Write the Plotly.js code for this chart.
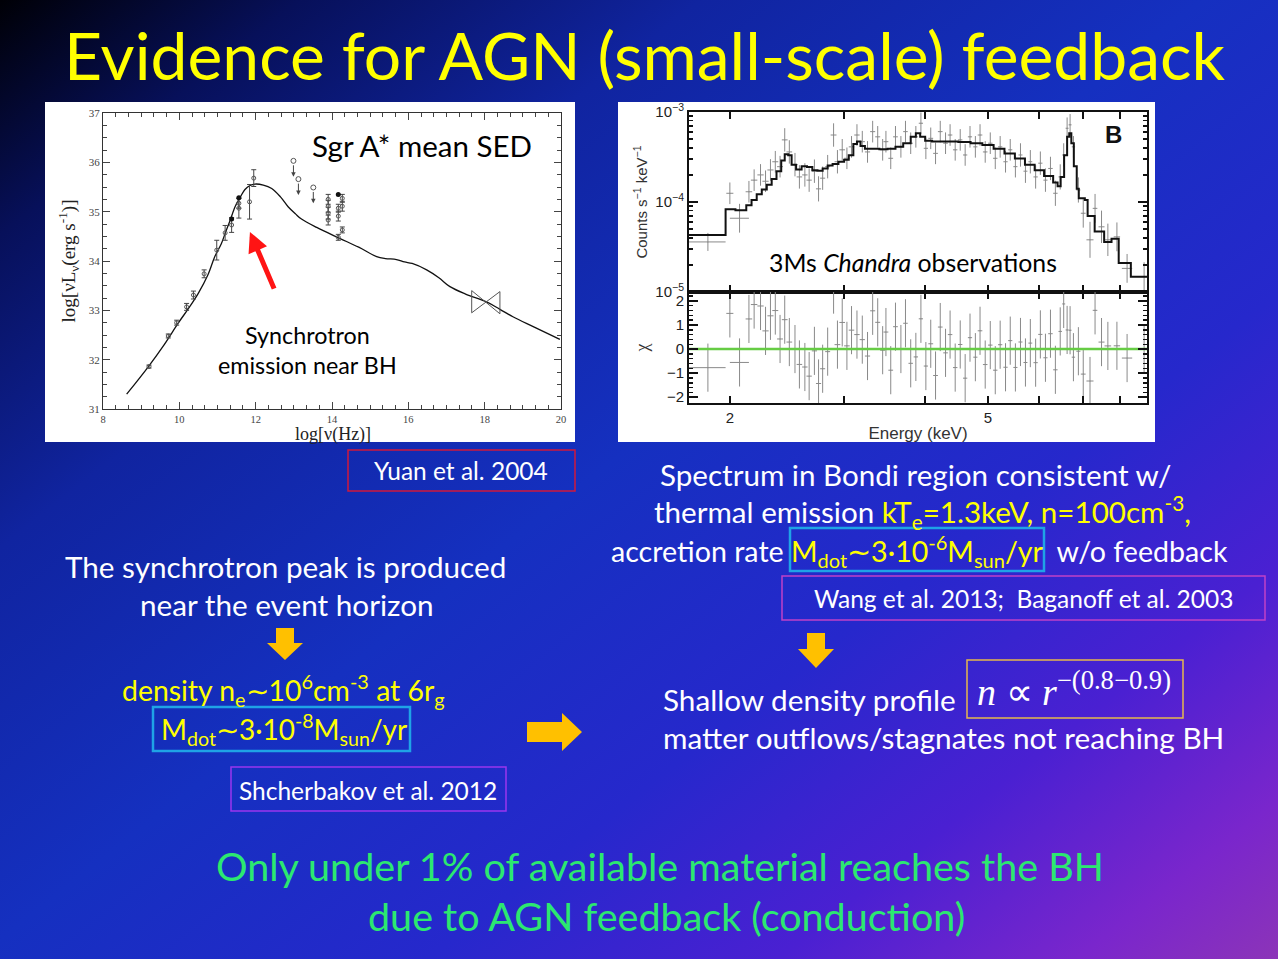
<!DOCTYPE html>
<html><head><meta charset="utf-8">
<script src="https://cdn.plot.ly/plotly-3.0.1.min.js"></script>
<style>
html,body{margin:0;padding:0;width:1278px;height:959px;overflow:hidden;
background:linear-gradient(142deg,#000006 0%,#07105a 12%,#1024a0 28%,#1530c0 48%,#2628cc 66%,#4a20d2 80%,#7a26cc 92%,#8c34b8 100%);}
#chart{width:1278px;height:959px;}
</style></head><body><div id="chart"></div>
<script>
// ---------- SED (left panel) ----------
const sedModelX = [8.62, 9.19, 9.6, 9.97, 10.25, 10.5, 10.75, 10.93, 11.1, 11.2, 11.33, 11.46, 11.6, 11.72, 11.85, 11.98, 12.2, 12.42, 12.65, 12.85, 13.05, 13.2, 13.6, 14.2, 14.7, 15.17, 15.4, 15.69, 15.9, 16.1, 16.48, 16.8, 17.09, 17.5, 18.05, 18.4, 18.74, 19.3, 19.97];
const sedModelY = [31.30, 31.86, 32.30, 32.74, 33.05, 33.35, 33.72, 34.09, 34.35, 34.56, 34.82, 35.10, 35.30, 35.45, 35.53, 35.56, 35.54, 35.47, 35.30, 35.10, 34.95, 34.85, 34.68, 34.46, 34.28, 34.09, 34.05, 34.03, 33.98, 33.95, 33.82, 33.66, 33.48, 33.33, 33.17, 33.02, 32.87, 32.66, 32.41];
const sedX   = [9.205, 9.71, 9.93, 10.19, 10.37, 10.65, 10.98, 11.20, 11.37, 11.56, 11.56, 11.84, 11.95, 13.90, 13.90, 13.90, 13.90, 14.165, 14.165, 14.165, 14.27, 14.27, 14.27];
const sedY   = [31.86, 32.48, 32.75, 33.07, 33.31, 33.74, 34.22, 34.57, 34.73, 35.17, 35.07, 35.20, 35.68, 35.25, 35.11, 34.97, 34.83, 35.07, 34.91, 34.48, 35.27, 35.11, 34.63];
const sedErr = [0.03, 0.04, 0.05, 0.07, 0.08, 0.08, 0.20, 0.15, 0.15, 0.10, 0.20, 0.35, 0.17, 0.10, 0.12, 0.12, 0.10, 0.08, 0.10, 0.06, 0.08, 0.10, 0.06];
const sedFilledX = [11.37, 11.56, 14.165];
const sedFilledY = [34.85, 35.28, 35.35];
const sedLimitX = [12.99, 13.12, 13.51];
const sedLimitY = [36.03, 35.66, 35.49];
const bowX = [17.66, 18.4, 18.4, 17.66, 17.66];
const bowY = [33.40, 32.93, 33.38, 32.95, 33.40];
const sedXTicks = [8, 10, 12, 14, 16, 18, 20];
const sedYTicks = [31, 32, 33, 34, 35, 36, 37];

// ---------- X-ray spectrum (right panel) ----------
const modelE = [1.73, 1.97, 2.04, 2.12, 2.16, 2.20, 2.24, 2.28, 2.32, 2.36, 2.40, 2.43, 2.46, 2.49, 2.53, 2.58, 2.63, 2.68, 2.73, 2.78, 2.83, 2.88, 2.94, 3.00, 3.05, 3.10, 3.14, 3.18, 3.23, 3.30, 3.40, 3.50, 3.60, 3.70, 3.80, 3.87, 3.93, 4.00, 4.10, 4.30, 4.50, 4.70, 4.90, 5.10, 5.30, 5.50, 5.70, 5.90, 6.10, 6.30, 6.40, 6.47, 6.55, 6.62, 6.67, 6.72, 6.78, 6.85, 6.90, 7.05, 7.12, 7.30, 7.55, 7.75, 7.95, 8.30, 8.79];
const modelC = [4.3e-5, 8.3e-5, 8.1e-5, 9.2e-5, 1.05e-4, 1.22e-4, 1.38e-4, 1.55e-4, 1.8e-4, 2.2e-4, 2.9e-4, 3.4e-4, 3.3e-4, 2.6e-4, 2.3e-4, 2.5e-4, 2.45e-4, 2.25e-4, 2.22e-4, 2.35e-4, 2.55e-4, 2.65e-4, 2.8e-4, 2.95e-4, 3.3e-4, 4.4e-4, 4.7e-4, 4.2e-4, 3.9e-4, 3.9e-4, 3.85e-4, 3.9e-4, 4.1e-4, 4.5e-4, 5.3e-4, 5.8e-4, 5.3e-4, 4.8e-4, 4.7e-4, 4.7e-4, 4.65e-4, 4.5e-4, 4.3e-4, 3.9e-4, 3.45e-4, 3.05e-4, 2.6e-4, 2.25e-4, 1.95e-4, 1.65e-4, 1.5e-4, 1.9e-4, 3.3e-4, 5.3e-4, 5.8e-4, 4.5e-4, 2.5e-4, 1.4e-4, 1.1e-4, 1.05e-4, 7e-5, 4.7e-5, 3.6e-5, 3.9e-5, 2.1e-5, 1.48e-5, 1.48e-5];
const specE = [1.85, 2.00, 2.07, 2.14, 2.18, 2.23, 2.27, 2.31, 2.35, 2.39, 2.43, 2.47, 2.52, 2.56, 2.61, 2.65, 2.70, 2.74, 2.78, 2.83, 2.89, 2.93, 2.98, 3.03, 3.08, 3.14, 3.20, 3.26, 3.32, 3.38, 3.44, 3.48, 3.54, 3.60, 3.67, 3.73, 3.80, 3.87, 3.94, 4.01, 4.08, 4.15, 4.22, 4.30, 4.37, 4.45, 4.53, 4.61, 4.69, 4.78, 4.86, 4.95, 5.04, 5.13, 5.22, 5.32, 5.41, 5.51, 5.61, 5.71, 5.81, 5.92, 6.02, 6.13, 6.24, 6.35, 6.46, 6.54, 6.62, 6.69, 6.77, 6.89, 7.01, 7.18, 7.31, 7.48, 7.65, 7.90, 8.19, 8.70];
const specC = [3.6e-5, 1.25e-4, 6.6e-5, 1.3e-4, 1.75e-4, 2.0e-4, 1.7e-4, 2.27e-4, 2.8e-4, 2.47e-4, 4.9e-4, 3.6e-4, 2.6e-4, 1.9e-4, 2.0e-4, 1.75e-4, 2.2e-4, 1.4e-4, 1.84e-4, 2.47e-4, 5.55e-4, 2.8e-4, 3.8e-4, 3.06e-4, 4.1e-4, 5.55e-4, 4.68e-4, 3.6e-4, 6.05e-4, 5.3e-4, 3.8e-4, 4.68e-4, 3.06e-4, 5.3e-4, 4.1e-4, 6.05e-4, 4.5e-4, 5.3e-4, 7.5e-4, 3.95e-4, 5.1e-4, 3.47e-4, 6.05e-4, 4.5e-4, 5.55e-4, 3.8e-4, 4.9e-4, 3.33e-4, 5.3e-4, 4.1e-4, 5.55e-4, 3.6e-4, 4.5e-4, 3.06e-4, 4.1e-4, 2.8e-4, 3.8e-4, 2.47e-4, 3.33e-4, 2.2e-4, 2.8e-4, 1.9e-4, 2.7e-4, 1.75e-4, 2.36e-4, 1.25e-4, 1.9e-4, 3.33e-4, 6.6e-4, 7.2e-4, 4.1e-4, 1.36e-4, 7.5e-5, 3.8e-5, 8.5e-5, 5.3e-5, 3.8e-5, 4.1e-5, 1.83e-5, 1.48e-5];
const specLogErr = [0.10,0.12,0.16,0.12,0.12,0.12,0.12,0.12,0.12,0.12, 0.13,0.13,0.13,0.13,0.13,0.13,0.13,0.14,0.13,0.13, 0.13,0.13,0.12,0.12,0.12,0.12,0.12,0.12,0.12,0.12, 0.12,0.12,0.12,0.12,0.12,0.12,0.12,0.12,0.12,0.12, 0.12,0.12,0.12,0.12,0.12,0.12,0.12,0.12,0.12,0.12, 0.12,0.12,0.12,0.12,0.12,0.12,0.12,0.12,0.13,0.13, 0.13,0.13,0.13,0.13,0.13,0.14,0.14,0.13,0.12,0.12, 0.12,0.14,0.16,0.20,0.16,0.18,0.18,0.16,0.16,0.16];
const specDE = [0.12,0.025,0.07,0.025,0.025,0.025,0.025,0.025,0.025,0.025, 0.025,0.025,0.025,0.025,0.025,0.025,0.025,0.025,0.025,0.025, 0.03,0.03,0.03,0.03,0.03,0.03,0.03,0.03,0.03,0.03, 0.03,0.03,0.03,0.03,0.03,0.03,0.03,0.03,0.03,0.03, 0.035,0.035,0.035,0.035,0.035,0.035,0.035,0.035,0.035,0.035, 0.04,0.04,0.04,0.04,0.04,0.04,0.04,0.04,0.04,0.04, 0.04,0.045,0.045,0.045,0.05,0.05,0.04,0.035,0.035,0.035, 0.04,0.05,0.06,0.09,0.06,0.08,0.09,0.09,0.15,0.12];
const eTickVals = [2, 3, 4, 5, 6, 7, 8];
const eTickText = ['2', '', '', '5', '', '', ''];
const cTickVals = [1e-5, 1e-4, 1e-3];
const cTickText = ['10<sup>−5</sup>', '10<sup>−4</sup>', '10<sup>−3</sup>'];
const cMinorVals = [2e-5,3e-5,4e-5,5e-5,6e-5,7e-5,8e-5,9e-5,2e-4,3e-4,4e-4,5e-4,6e-4,7e-4,8e-4,9e-4];
const chiTickVals = [-2, -1, 0, 1, 2];
const chiTickText = ['−2', '−1', '0', '1', '2'];

// ---------- helpers ----------
const W = 1278, H = 959;
const PX = x => x / W, PY = y => 1 - y / H;
function modelAt(e) { let v = modelC[0]; for (let i = 0; i < modelE.length; i++) { if (modelE[i] <= e) v = modelC[i]; } return v; }
const chi = specE.map((e, i) => (Math.log10(specC[i]) - Math.log10(modelAt(e))) / specLogErr[i]);
const errPlus = specC.map((c, i) => c * (Math.pow(10, specLogErr[i]) - 1));
const errMinus = specC.map((c, i) => c * (1 - Math.pow(10, -specLogErr[i])));
const ones = specE.map(() => 1);

const SERIF = 'Liberation Serif, serif', SANS = 'Liberation Sans, Arial, sans-serif', BODY = 'Lato, sans-serif';
const GREY = '#8a8a8a';

const traces = [
  {x: sedModelX, y: sedModelY, xaxis: 'x', yaxis: 'y', mode: 'lines', line: {color: '#111', width: 1.3, shape: 'spline'}, hoverinfo: 'skip'},
  {x: sedX, y: sedY, xaxis: 'x', yaxis: 'y', mode: 'markers', marker: {symbol: 'circle-open', size: 4, color: '#555', line: {width: 1}},
   error_y: {type: 'data', array: sedErr, color: '#444', thickness: 1, width: 2.5}},
  {x: sedFilledX, y: sedFilledY, xaxis: 'x', yaxis: 'y', mode: 'markers', marker: {symbol: 'circle', size: 5, color: '#111'}},
  {x: sedLimitX, y: sedLimitY, xaxis: 'x', yaxis: 'y', mode: 'markers', marker: {symbol: 'circle-open', size: 5, color: '#555', line: {width: 1}}},
  {x: bowX, y: bowY, xaxis: 'x', yaxis: 'y', mode: 'lines', line: {color: '#555', width: 1}},
  // spectrum
  {x: specE, y: specC, xaxis: 'x2', yaxis: 'y2', mode: 'markers', marker: {size: 1, color: GREY},
   error_y: {type: 'data', array: errPlus, arrayminus: errMinus, color: GREY, thickness: 1, width: 0},
   error_x: {type: 'data', array: specDE, color: GREY, thickness: 1, width: 0}},
  {x: modelE, y: modelC, xaxis: 'x2', yaxis: 'y2', mode: 'lines', line: {color: '#111', width: 2, shape: 'hv'}},
  // residuals
  {x: specE, y: chi, xaxis: 'x3', yaxis: 'y3', mode: 'markers', marker: {size: 1, color: GREY},
   error_y: {type: 'data', array: ones, color: GREY, thickness: 1, width: 0},
   error_x: {type: 'data', array: specDE, color: GREY, thickness: 1, width: 0}, cliponaxis: true},
  {x: [modelE[0], modelE[modelE.length - 1]], y: [0, 0], xaxis: 'x3', yaxis: 'y3', mode: 'lines', line: {color: '#66CC44', width: 2.5}}
];

function txt(text, x, y, size, color, extra) {
  return Object.assign({text: text, x: PX(x), y: PY(y), xref: 'paper', yref: 'paper', showarrow: false,
    xanchor: 'center', yanchor: 'middle', font: {family: BODY, size: size, color: color}}, extra || {});
}
const Y = '#FFFF00';
const ann = [
  txt('Evidence for AGN (small-scale) feedback', 645, 54, 66, Y),
  txt('Sgr A* mean SED', 422, 145, 29.5, '#000'),
  txt('Synchrotron', 307, 335, 23.3, '#000'),
  txt('emission near BH', 307, 365, 23.3, '#000'),
  txt('log[ν(Hz)]', 333, 434.5, 18, '#222', {font: {family: SERIF, size: 18, color: '#222'}}),
  txt('Yuan et al. 2004', 461, 471, 24.5, '#fff'),
  txt('3Ms <i>Chandra</i> observations', 913, 262, 24.8, '#000'),
  txt('<b>B</b>', 1113, 134, 24, '#111', {font: {family: SANS, size: 24, color: '#111'}}),
  txt('Spectrum in Bondi region consistent w/', 915, 474, 29.6, '#fff'),
  txt('thermal emission <span style="color:#FFFF00">kT<sub>e</sub>=1.3keV, n=100cm<sup>-3</sup>,</span>', 922, 512, 29.6, '#fff'),
  txt('accretion rate <span style="color:#FFFF00">M<sub>dot</sub>∼3·10<sup>-6</sup>M<sub>sun</sub>/yr</span>  w/o feedback', 920, 551, 28.6, '#fff'),
  txt('Wang et al. 2013;  Baganoff et al. 2003', 1023, 598, 24.5, '#fff'),
  txt('The synchrotron peak is produced', 285, 566, 29.7, '#fff'),
  txt('near the event horizon', 287, 604, 29.7, '#fff'),
  txt('density n<sub>e</sub>∼10<sup>6</sup>cm<sup>-3</sup> at 6r<sub>g</sub>', 283, 690, 28.4, Y),
  txt('M<sub>dot</sub>∼3·10<sup>-8</sup>M<sub>sun</sub>/yr', 284, 729, 28, Y),
  txt('Shcherbakov et al. 2012', 368, 790, 24.5, '#fff'),
  txt('Shallow density profile', 661, 699, 29.7, '#fff', {xanchor: 'left'}),
  txt('<i>n</i> ∝ <i>r</i><sup>−(0.8−0.9)</sup>', 1074, 689, 38, '#fff', {font: {family: SERIF, size: 38, color: '#fff'}}),
  txt('matter outflows/stagnates not reaching BH', 661, 737, 29.7, '#fff', {xanchor: 'left'}),
  txt('Only under 1% of available material reaches the BH', 660, 865, 39.5, '#2CE870'),
  txt('due to AGN feedback (conduction)', 666, 915, 39.5, '#2CE870'),
  // red arrow on SED
  {x: 11.85, y: 34.59, ax: 12.5, ay: 33.41, xref: 'x', yref: 'y', axref: 'x', ayref: 'y', text: '', showarrow: true,
   arrowhead: 2, arrowsize: 0.8, arrowwidth: 5, arrowcolor: '#FF1414'}
];
// upper-limit arrows
sedLimitX.forEach((xv, i) => ann.push({x: xv, y: sedLimitY[i] - 0.32, ax: xv, ay: sedLimitY[i] - 0.06, xref: 'x', yref: 'y', axref: 'x', ayref: 'y',
  text: '', showarrow: true, arrowhead: 2, arrowsize: 0.9, arrowwidth: 1, arrowcolor: '#444'}));

function rect(x0, y0, x1, y1, line, fill, lw) {
  return {type: 'rect', xref: 'paper', yref: 'paper', x0: PX(x0), x1: PX(x1), y0: PY(y1), y1: PY(y0),
    line: {color: line || 'rgba(0,0,0,0)', width: lw || 0}, fillcolor: fill || 'rgba(0,0,0,0)', layer: fill ? 'below' : 'above'};
}
function poly(pts, color) {
  const d = pts.map((p, i) => (i ? 'L' : 'M') + PX(p[0]).toFixed(5) + ',' + PY(p[1]).toFixed(5)).join(' ') + ' Z';
  return {type: 'path', xref: 'paper', yref: 'paper', path: d, fillcolor: color, line: {width: 0}, layer: 'above'};
}
const ORANGE = '#FFC000';
const shapes = [
  rect(45, 102, 575, 442, null, '#ffffff'),
  rect(618, 102, 1155, 442, null, '#ffffff'),
  rect(348, 450, 575, 491, '#D0183C', null, 1.5),
  rect(790, 528, 1044, 571, '#1FA3E6', null, 2.5),
  rect(782, 576, 1265, 620, '#C040C8', null, 1.5),
  rect(153, 707, 410, 751, '#1FA3E6', null, 2.5),
  rect(231, 767, 506, 811, '#9A36EE', null, 1.5),
  rect(967, 660, 1183, 718, '#E6B84C', null, 1.5),
  poly([[276, 628], [294, 628], [294, 643], [303, 643], [285, 660], [267, 643], [276, 643]], ORANGE),
  poly([[807, 633], [825, 633], [825, 649], [834, 649], [816, 668], [798, 649], [807, 649]], ORANGE),
  poly([[527, 722], [562, 722], [562, 713], [582, 732], [562, 751], [562, 742], [527, 742]], ORANGE)
];

const sedAxisCommon = {showline: true, linecolor: '#333', linewidth: 1, mirror: 'ticks', ticks: 'inside', ticklen: 7, tickcolor: '#444',
  showgrid: false, zeroline: false, tickfont: {family: SERIF, size: 11, color: '#444'}};
const specAxisCommon = {showline: true, linecolor: '#111', linewidth: 2, mirror: 'ticks', ticks: 'inside', ticklen: 7, tickwidth: 2, tickcolor: '#111',
  showgrid: false, zeroline: false, tickfont: {family: SANS, size: 15, color: '#222'}};

const layout = {
  width: W, height: H, margin: {l: 0, r: 0, t: 0, b: 0},
  paper_bgcolor: 'rgba(0,0,0,0)', plot_bgcolor: 'rgba(0,0,0,0)', showlegend: false,
  xaxis: Object.assign({}, sedAxisCommon, {domain: [PX(103), PX(561)], range: [8, 20], anchor: 'y', tickvals: sedXTicks,
    tickfont: {family: SERIF, size: 10.5, color: '#444'},
    minor: {dtick: 1/3, tick0: 8, ticklen: 4, tickcolor: '#444', ticks: 'inside'}}),
  yaxis: Object.assign({}, sedAxisCommon, {domain: [PY(409), PY(113)], range: [31, 37], anchor: 'x', tickvals: sedYTicks,
    minor: {dtick: 0.25, tick0: 31, ticklen: 4, tickcolor: '#444', ticks: 'inside'},
    title: {text: 'log[νL<sub>ν</sub>(erg s<sup>-1</sup>)]', font: {family: SERIF, size: 19, color: '#222'}, standoff: 8}}),
  xaxis2: Object.assign({}, specAxisCommon, {type: 'log', domain: [PX(689), PX(1147)], range: [Math.log10(1.73), Math.log10(8.79)], anchor: 'y2',
    tickvals: eTickVals, ticktext: eTickText, showticklabels: false}),
  yaxis2: Object.assign({}, specAxisCommon, {type: 'log', domain: [PY(292), PY(112)], range: [-5, -3], anchor: 'x2',
    tickvals: cTickVals, ticktext: cTickText, ticklen: 9,
    minor: {tickmode: 'array', tickvals: cMinorVals, ticklen: 4, tickwidth: 1.5, tickcolor: '#111', ticks: 'inside'},
    title: {text: 'Counts s<sup>−1</sup> keV<sup>−1</sup>', font: {family: SANS, size: 15, color: '#333'}, standoff: 4}}),
  xaxis3: Object.assign({}, specAxisCommon, {type: 'log', domain: [PX(689), PX(1147)], range: [Math.log10(1.73), Math.log10(8.79)], anchor: 'y3',
    matches: 'x2', tickvals: eTickVals, ticktext: eTickText,
    title: {text: 'Energy (keV)', font: {family: SANS, size: 17, color: '#333'}, standoff: 2}}),
  yaxis3: Object.assign({}, specAxisCommon, {domain: [PY(403), PY(292)], range: [-2.24, 2.37], anchor: 'x3',
    tickvals: chiTickVals, ticktext: chiTickText, ticklen: 9,
    minor: {dtick: 0.2, tick0: 0, ticklen: 4, tickwidth: 1.5, tickcolor: '#111', ticks: 'inside'},
    title: {text: 'χ', font: {family: SERIF, size: 18, color: '#333'}, standoff: 14}}),
  annotations: ann,
  shapes: shapes
};
Plotly.newPlot('chart', traces, layout, {displayModeBar: false, staticPlot: true});
</script></body></html>
